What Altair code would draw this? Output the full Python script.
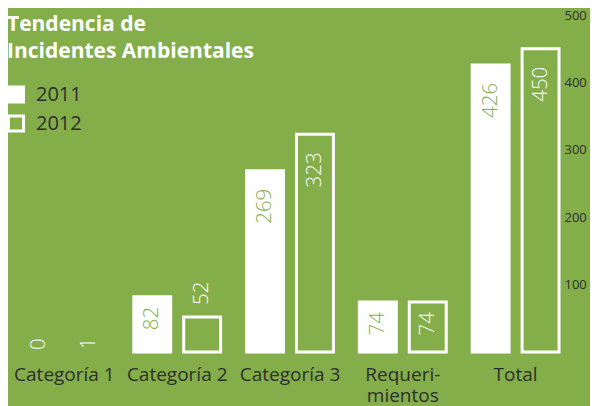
import altair as alt
import pandas as pd

categories = ["Categoría 1", "Categoría 2", "Categoría 3", "Requeri-\nmientos", "Total"]
years = ["2011", "2012"]
values_2011 = [0, 82, 269, 74, 426]
values_2012 = [1, 52, 323, 74, 450]
y_ticks = [100, 200, 300, 400, 500]
title_lines = ["Tendencia de", "Incidentes Ambientales"]

rows = []
for c, a, b in zip(categories, values_2011, values_2012):
    rows.append({"cat": c, "year": years[0], "value": a})
    rows.append({"cat": c, "year": years[1], "value": b})
df = pd.DataFrame(rows)

GREEN = "#83AE4A"
DARK = "#2E2E2E"
FONT = "Open Sans"

x = alt.X(
    "cat:N", sort=categories,
    scale=alt.Scale(paddingInner=0, paddingOuter=0),
    axis=alt.Axis(title=None, labelAngle=0, domain=False, ticks=False, labelPadding=13,
                  labelFont=FONT, labelFontSize=19, labelColor=DARK, labelLineHeight=21,
                  labelBaseline="top", labelExpr="split(datum.label, '\\n')"),
)
xo = alt.XOffset("year:N", sort=years, scale=alt.Scale(paddingInner=0.26, paddingOuter=0.26))
y = alt.Y(
    "value:Q",
    scale=alt.Scale(domain=[0, 500]),
    axis=alt.Axis(orient="right", values=y_ticks, title=None, domain=False, ticks=False,
                  grid=False, labelPadding=0, offset=-8, labelFont=FONT, labelFontSize=13,
                  labelColor=DARK),
)

bars = alt.Chart(df).mark_bar(stroke="white", strokeWidth=3).encode(
    x=x, xOffset=xo, y=y,
    fill=alt.Fill(
        "year:N", sort=years,
        scale=alt.Scale(domain=years, range=["white", GREEN]),
        legend=alt.Legend(title=None, orient="none", legendX=-2, legendY=69.5,
                          symbolType="square", symbolSize=225, symbolStrokeColor="white",
                          symbolStrokeWidth=3, labelFont=FONT, labelFontSize=20,
                          labelColor=DARK, labelOffset=10, rowPadding=1, padding=0),
    ),
    strokeOpacity=alt.condition("datum.value < 5", alt.value(0), alt.value(1)),
)

label_color = alt.condition("datum.year == '2011'", alt.value(GREEN), alt.value("white"))
text_kw = dict(angle=270, baseline="middle", fontSize=20.5, font=FONT, fontWeight=300)

inside3 = alt.Chart(df).transform_filter("datum.value >= 100").mark_text(
    align="right", dx=-18, **text_kw
).encode(x=x, xOffset=xo, y=y, text="value:Q", color=label_color)

inside2 = alt.Chart(df).transform_filter("datum.value >= 60 && datum.value < 100").mark_text(
    align="right", dx=-10, **text_kw
).encode(x=x, xOffset=xo, y=y, text="value:Q", color=label_color)

outside = alt.Chart(df).transform_filter("datum.value >= 10 && datum.value < 60").mark_text(
    align="left", dx=12, color="white", **text_kw
).encode(x=x, xOffset=xo, y=y, text="value:Q")

tiny = alt.Chart(df).transform_filter("datum.value < 10").mark_text(
    align="left", dx=2, color="white", **text_kw
).encode(x=x, xOffset=xo, y=y, text="value:Q")

chart = alt.layer(bars, inside3, inside2, outside, tiny).properties(
    width=564, height=337,
    autosize=alt.AutoSizeParams(type="none"),
    padding={"left": 0, "top": 7, "right": 18, "bottom": 54},
    title=alt.TitleParams(text=title_lines, anchor="start", orient="top", offset=-53,
                          font=FONT, fontSize=21, fontWeight="bold", color="white",
                          lineHeight=27, dx=1),
).configure(background=GREEN).configure_view(stroke=None)

chart.save("out.html", embed_options={"renderer": "svg", "actions": False})
